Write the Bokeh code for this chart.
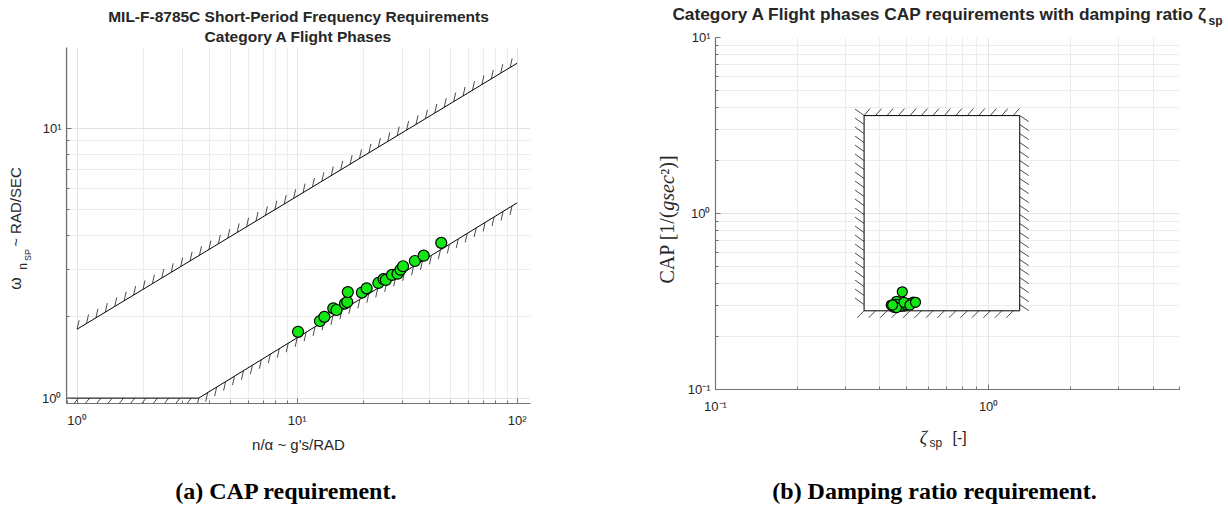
import math
from bokeh.plotting import figure
from bokeh.layouts import row, column
from bokeh.models import Label, FixedTicker
from bokeh.embed import file_html
from bokeh.resources import INLINE

# ---- data: short-period frequency vs. load factor sensitivity ----
n_alpha = [10.1, 12.7, 13.3, 14.6, 15.1, 16.5, 16.9, 17.0, 19.7, 20.7,
           23.4, 24.7, 25.3, 27.0, 28.6, 29.5, 30.3, 34.3, 37.6, 45.2]
omega_sp = [1.76, 1.93, 2.00, 2.15, 2.12, 2.24, 2.27, 2.47, 2.46, 2.55,
            2.67, 2.76, 2.74, 2.86, 2.89, 2.99, 3.08, 3.22, 3.37, 3.76]

# Category A boundaries (upper CAP line, lower floor + CAP line)
upper_x = [1.0, 100.0]
upper_y = [1.80, 17.4]
lower_x = [0.9, 3.571, 100.0]
lower_y = [1.0, 1.0, 5.29]

# ---- data: CAP vs. short-period damping ratio ----
zeta_sp = [0.47, 0.45, 0.44, 0.46, 0.49, 0.50, 0.48, 0.483, 0.52, 0.53,
           0.455, 0.51, 0.475, 0.465, 0.46, 0.50, 0.49, 0.445, 0.515, 0.54]
cap = [0.306, 0.293, 0.302, 0.317, 0.298, 0.304, 0.305, 0.359, 0.307, 0.314,
       0.305, 0.308, 0.297, 0.303, 0.292, 0.303, 0.313, 0.302, 0.302, 0.313]
zeta_bounds = [0.35, 1.30]
cap_bounds = [0.28, 3.6]

# axis ranges and tick labels
xr1, yr1 = (0.895, 115.0), (0.955, 19.9)
xr2, yr2 = (0.1, 5.0), (0.1, 10.0)
ticks1_x = {1: "10⁰", 10: "10¹", 100: "10²"}
ticks1_y = {1: "10⁰", 10: "10¹"}
ticks2_x = {0.1: "10⁻¹", 1: "10⁰"}
ticks2_y = {0.1: "10⁻¹", 1: "10⁰", 10: "10¹"}

SANS = "Liberation Sans"
SERIF = "Liberation Serif"
INK = "#262626"
FILL = "#14e814"
A90 = math.pi / 2


def minor_list(lo, hi):
    out = []
    d = 10.0 ** math.floor(math.log10(lo))
    while d < hi * 1.0001:
        for m in range(2, 10):
            v = m * d
            if lo <= v <= hi:
                out.append(v)
        d *= 10
    return out


def hatch(xs, ys, xr, yr, fw, fh, vec, step):
    """Short tick marks along a boundary, laid out in pixel space on log axes."""
    kx = fw / (math.log10(xr[1]) - math.log10(xr[0]))
    ky = fh / (math.log10(yr[1]) - math.log10(yr[0]))
    px = [math.log10(v) * kx for v in xs]
    py = [math.log10(v) * ky for v in ys]
    x0, y0, x1, y1 = [], [], [], []
    for i in range(len(xs) - 1):
        dx, dy = px[i + 1] - px[i], py[i + 1] - py[i]
        L = math.hypot(dx, dy)
        n = int(L // step)
        for k in range(n + 1):
            t = k * step / L
            sx, sy = px[i] + t * dx, py[i] + t * dy
            x0.append(10 ** (sx / kx))
            y0.append(10 ** (sy / ky))
            x1.append(10 ** ((sx + vec[0]) / kx))
            y1.append(10 ** ((sy + vec[1]) / ky))
    return x0, y0, x1, y1


def style(p, xt, yt):
    p.xaxis.ticker = FixedTicker(ticks=list(xt.keys()),
                                 minor_ticks=minor_list(p.x_range.start, p.x_range.end))
    p.yaxis.ticker = FixedTicker(ticks=list(yt.keys()),
                                 minor_ticks=minor_list(p.y_range.start, p.y_range.end))
    p.xaxis.major_label_overrides = xt
    p.yaxis.major_label_overrides = yt
    for ax in (p.xaxis, p.yaxis):
        ax.axis_line_color = "#737373"
        ax.axis_line_width = 1.2
        ax.major_tick_line_color = "#737373"
        ax.minor_tick_line_color = "#737373"
        ax.major_tick_in = 5
        ax.major_tick_out = 0
        ax.minor_tick_in = 3
        ax.minor_tick_out = 0
        ax.major_label_text_font = SANS
        ax.major_label_text_font_size = "13px"
        ax.major_label_text_color = INK
    p.xaxis.major_label_standoff = 9
    p.yaxis.major_label_standoff = 5
    for g in (p.xgrid, p.ygrid):
        g.grid_line_color = "#e3e3e3"
        g.minor_grid_line_color = "#ececec"
    p.outline_line_color = None


def textfig(w, h, top=0, bottom=0):
    """Blank strip for texts; its data units are pixels from the strip's bottom.

    top/bottom repeat the borders of the plot beside it, so that the row keeps
    both frames the same height."""
    f = figure(width=w, height=h, x_range=(0, w), y_range=(bottom, h - top),
               x_axis_location=None, y_axis_location=None, toolbar_location=None,
               output_backend="svg", min_border_left=0, min_border_right=0,
               min_border_top=top, min_border_bottom=bottom,
               background_fill_color="white", border_fill_color="white")
    f.grid.visible = False
    f.outline_line_color = None
    return f


def lbl(f, x, y, text, size, font=SANS, style_="normal", align="left",
        baseline="middle", angle=0.0, color=INK):
    f.add_layout(Label(x=x, y=y, text=text, text_font=font, text_font_size=size,
                       text_font_style=style_, text_align=align,
                       text_baseline=baseline, angle=angle, text_color=color))


def vlbl(f, x, y, text, size, font=SANS, style_="normal"):
    """Vertical text centred on (x, y), reading bottom to top."""
    lbl(f, x, y, text, size, font=font, style_=style_, align="center",
        baseline="middle", angle=A90)


def plotfig(w, h, xr, yr, top, bottom):
    return figure(width=w, height=h, x_axis_type="log", y_axis_type="log",
                  x_range=xr, y_range=yr, output_backend="svg",
                  toolbar_location=None, min_border_left=30, min_border_right=49,
                  min_border_top=top, min_border_bottom=bottom,
                  background_fill_color="white", border_fill_color="white")


# ================= left panel =================
FW1, FH1 = 464, 356
p1 = plotfig(543, 388, xr1, yr1, 0, 32)
style(p1, ticks1_x, ticks1_y)

p1.line(upper_x, upper_y, line_color="black", line_width=1)
p1.line(lower_x, lower_y, line_color="black", line_width=1)
segs = [hatch(upper_x, upper_y, xr1, yr1, FW1, FH1, (2, 9), 11.0),
        hatch(lower_x[:2], lower_y[:2], xr1, yr1, FW1, FH1, (-4, -5), 11.3),
        hatch(lower_x[1:], lower_y[1:], xr1, yr1, FW1, FH1, (-2, -9), 10.5)]
for a, b, c, d in segs:
    p1.segment(a, b, c, d, line_color="#1a1a1a", line_width=0.8)

p1.scatter(n_alpha, omega_sp, size=11, fill_color=FILL, line_color="black",
           line_width=1.2)

topL = textfig(614, 47)
lbl(topL, 298, 31, "MIL-F-8785C Short-Period Frequency Requirements", "15.5px",
    style_="bold", align="center")
lbl(topL, 298, 11, "Category A Flight Phases", "15.5px", style_="bold",
    align="center")

ylabL = textfig(36, 388, top=0, bottom=32)
vlbl(ylabL, 15, 152, "ω", "16px")
vlbl(ylabL, 22, 169, "n", "12px")
vlbl(ylabL, 27, 180.5, "SP", "9px")
vlbl(ylabL, 15, 228.5, "~ RAD/SEC", "15px")

padL = textfig(35, 388, top=0, bottom=32)

botL = textfig(614, 91)
lbl(botL, 298, 82, "n/α ~ g's/RAD", "15px", align="center")
lbl(botL, 286, 36, "(a) CAP requirement.", "24px", font=SERIF, style_="bold",
    align="center", color="black")

left = column(topL, row(ylabL, p1, padL), botL)

# ================= right panel =================
FW2, FH2 = 465, 352
p2 = plotfig(544, 394, xr2, yr2, 10, 32)
style(p2, ticks2_x, ticks2_y)

zl, zh = zeta_bounds
cl, ch = cap_bounds
p2.line([zl, zh, zh, zl, zl], [ch, ch, cl, cl, ch], line_color="black", line_width=1)
box_segs = [hatch([zl, zh], [ch, ch], xr2, yr2, FW2, FH2, (6, 7), 11.5),
            hatch([zl, zl], [ch, cl], xr2, yr2, FW2, FH2, (-9, 6.5), 9.0),
            hatch([zh, zh], [ch, cl], xr2, yr2, FW2, FH2, (9, -6), 9.0),
            hatch([zl, zh], [cl, cl], xr2, yr2, FW2, FH2, (-7, -7), 11.5)]
for a, b, c, d in box_segs:
    p2.segment(a, b, c, d, line_color="#1a1a1a", line_width=0.8)

p2.scatter(zeta_sp, cap, size=10, fill_color=FILL, line_color="black",
           line_width=1.2)

topR = textfig(614, 27)
lbl(topR, 593, 14, "Category A Flight phases CAP requirements with damping ratio ζ",
    "17.3px", style_="bold", align="right")
lbl(topR, 594, 7, "sp", "12px", style_="bold")

ylabR = textfig(70, 394, top=10, bottom=32)
vlbl(ylabR, 52, 174.4, "CAP [1/(", "20px", font=SERIF)
vlbl(ylabR, 52, 228.6, "gsec", "20px", font=SERIF, style_="italic")
vlbl(ylabR, 52, 256.5, "²)]", "20px", font=SERIF)

botR = textfig(614, 105)
lbl(botR, 309, 89, "ζ", "18px", font=SERIF, style_="italic", align="center")
lbl(botR, 315, 84, "sp", "12px")
lbl(botR, 338, 89, "[-]", "16px")
lbl(botR, 320, 36, "(b) Damping ratio requirement.", "24px", font=SERIF,
    style_="bold", align="center", color="black")

right = column(topR, row(ylabR, p2), botR)

layout = row(left, right)
open("out.html", "w").write(file_html(layout, INLINE))
